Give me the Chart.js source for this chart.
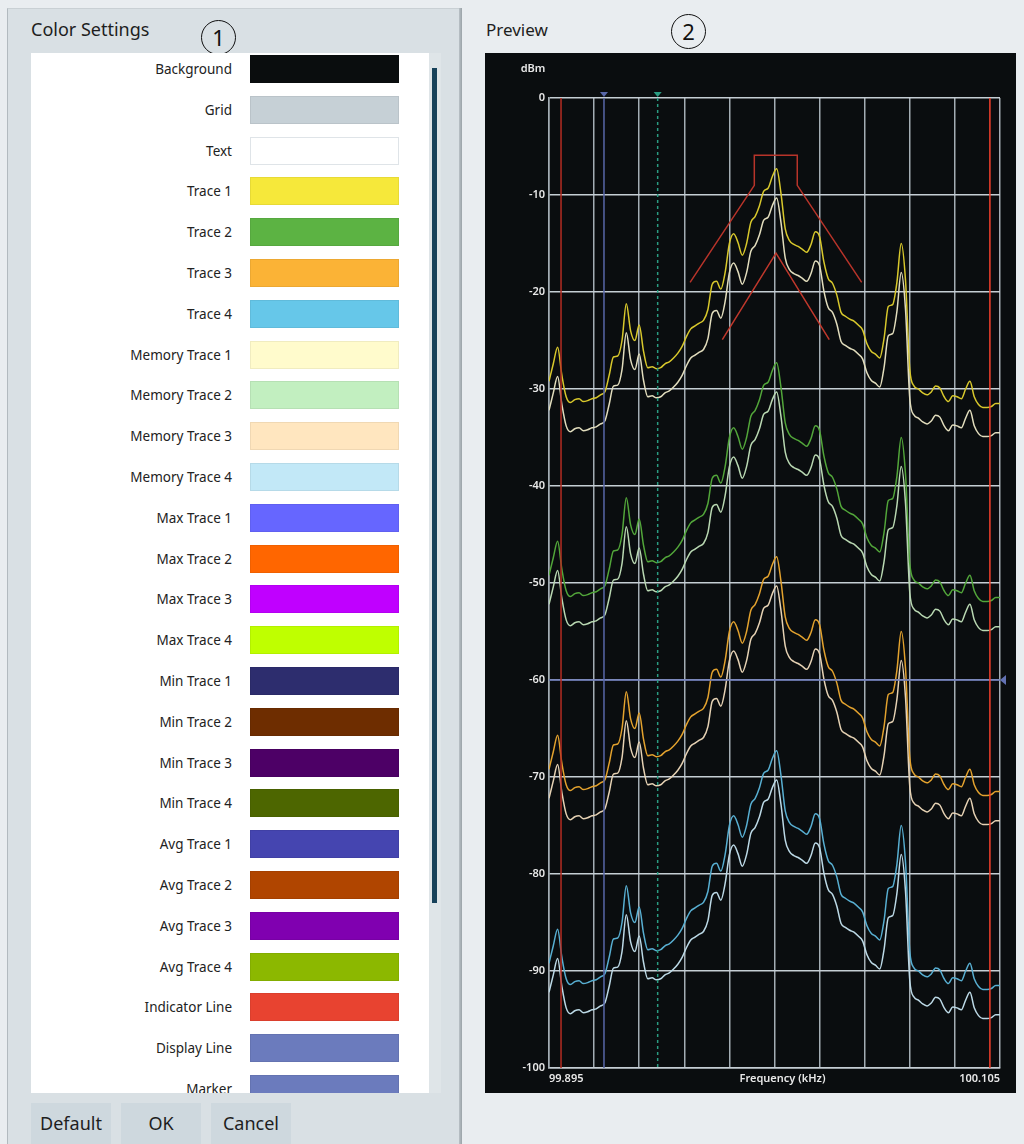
<!DOCTYPE html>
<html>
<head>
<meta charset="utf-8">
<script src="https://cdn.jsdelivr.net/npm/chart.js@4.4.0/dist/chart.umd.min.js"></script>
<style>
  html, body { margin: 0; padding: 0; }
  body {
    width: 1024px; height: 1144px; position: relative; overflow: hidden;
    background: #e9edf0; font-family: "Noto Sans", sans-serif; color: #1e1e1e;
  }
  .abs { position: absolute; }
  #leftPanel {
    left: 7px; top: 8px; width: 452px; height: 1136px; background: #d9e0e4;
    border-left: 1px solid #b2babf; border-top: 1px solid #c9d0d4;
  }
  #panelEdge { left: 459px; top: 8px; width: 3px; height: 1136px; background: linear-gradient(to right, #b9c1c6, #9aa3a8); }
  .title { font-size: 18px; line-height: 22px; white-space: nowrap; }
  .circ {
    width: 33px; height: 33px; border: 1.5px solid #111; border-radius: 50%;
    text-align: center; font-size: 22px; line-height: 33px; color: #111;
  }
  #list { left: 31px; top: 53px; width: 398px; height: 1040px; background: #fff; overflow: hidden; }
  .lbl { position: absolute; right: 197px; font-size: 13.5px; line-height: 18px; white-space: nowrap; color: #222; }
  .sw { position: absolute; left: 219px; width: 149px; height: 28px; box-sizing: border-box; }
  #track { left: 429px; top: 53px; width: 12px; height: 1040px; background: #dfe5e8; }
  #thumb { left: 432px; top: 68px; width: 5px; height: 835px; background: #17425a; }
  .btn {
    top: 1103px; width: 80px; height: 41px; background: #ced8de;
    font-size: 18px; line-height: 41px; text-align: center; color: #1e1e1e;
  }
  #plotBox { left: 485px; top: 53px; width: 531px; height: 1040px; background: #0a0d0f; }
</style>
</head>
<body>
<div id="leftPanel" class="abs"></div>
<div id="panelEdge" class="abs"></div>
<div class="abs title" style="left:31px;top:18px;">Color Settings</div>
<div class="abs circ" style="left:201px;top:20px;">1</div>
<div class="abs title" style="left:486px;top:19px;font-size:17px;">Preview</div>
<div class="abs circ" style="left:671px;top:14px;">2</div>
<div id="list" class="abs"></div>
<div id="track" class="abs"></div>
<div id="thumb" class="abs"></div>
<div class="abs btn" style="left:31px;">Default</div>
<div class="abs btn" style="left:121px;">OK</div>
<div class="abs btn" style="left:211px;">Cancel</div>
<div id="plotBox" class="abs"><canvas id="spectrum"></canvas></div>

<script>
// Color settings list
const colorNames = ["Background", "Grid", "Text", "Trace 1", "Trace 2", "Trace 3", "Trace 4",
  "Memory Trace 1", "Memory Trace 2", "Memory Trace 3", "Memory Trace 4",
  "Max Trace 1", "Max Trace 2", "Max Trace 3", "Max Trace 4",
  "Min Trace 1", "Min Trace 2", "Min Trace 3", "Min Trace 4",
  "Avg Trace 1", "Avg Trace 2", "Avg Trace 3", "Avg Trace 4",
  "Indicator Line", "Display Line", "Marker"];
const colorValues = ["#0a0d0e", "#c6d0d6", "#ffffff", "#f6e83a", "#5cb343", "#fbb336", "#66c7e9",
  "#fffbcc", "#c2efc0", "#ffe6bf", "#c2e8f7",
  "#6666ff", "#ff6600", "#c000ff", "#bfff00",
  "#2d2d6e", "#6e2d00", "#4d0066", "#4d6600",
  "#4545b0", "#b04500", "#8000b0", "#8cb800",
  "#e84330", "#6b7bbd", "#6b7bbd"];

// Spectrum data (kHz / dBm)
const freqs = [99.895,99.897,99.899,99.901,99.903,99.905,99.907,99.909,99.911,99.913,
  99.915,99.917,99.919,99.921,99.923,99.925,99.927,99.929,99.931,99.933,
  99.935,99.937,99.939,99.941,99.943,99.945,99.947,99.949,99.951,99.953,
  99.955,99.957,99.959,99.961,99.963,99.965,99.967,99.969,99.971,99.973,
  99.975,99.977,99.979,99.981,99.983,99.985,99.987,99.989,99.991,99.993,
  99.995,99.997,99.999,100.001,100.003,100.005,100.007,100.009,100.011,100.013,
  100.015,100.017,100.019,100.021,100.023,100.025,100.027,100.029,100.031,100.033,
  100.035,100.037,100.039,100.041,100.043,100.045,100.047,100.049,100.051,100.053,
  100.055,100.057,100.059,100.061,100.063,100.065,100.067,100.069,100.071,100.073,
  100.075,100.077,100.079,100.081,100.083,100.085,100.087,100.089,100.091,100.093,
  100.095,100.097,100.099,100.101,100.103,100.105];

const trace1 = [-29.2,-27.4,-25.7,-28.6,-30.8,-31.4,-31.1,-31.0,-31.3,-31.2,
  -31.0,-30.9,-30.6,-30.3,-28.6,-26.7,-26.6,-25.0,-21.2,-24.0,
  -25.0,-23.4,-26.1,-27.8,-27.7,-27.9,-27.8,-27.4,-27.2,-26.8,
  -26.3,-25.6,-24.6,-23.8,-23.5,-23.2,-22.9,-21.8,-19.2,-18.9,
  -19.7,-18.0,-15.0,-14.0,-14.9,-16.2,-15.0,-12.8,-12.2,-11.1,
  -9.6,-9.3,-8.1,-7.3,-9.8,-13.5,-14.7,-15.1,-15.3,-15.6,
  -15.9,-15.1,-13.8,-14.3,-16.9,-18.6,-19.1,-20.3,-22.1,-22.5,
  -22.8,-23.0,-23.4,-23.9,-25.3,-26.1,-26.4,-26.8,-24.8,-21.5,
  -21.3,-19.0,-15.0,-18.8,-28.0,-29.7,-30.0,-30.4,-30.6,-30.3,
  -29.7,-29.9,-30.8,-31.3,-30.7,-30.8,-31.0,-30.0,-29.2,-30.8,
  -31.6,-31.9,-31.9,-31.8,-31.5,-31.5];
const memory1 = [-32.2,-30.4,-28.7,-31.6,-33.8,-34.4,-34.1,-34.0,-34.3,-34.2,
  -34.0,-33.9,-33.6,-33.3,-31.6,-29.7,-29.6,-28.0,-24.2,-27.0,
  -28.0,-26.4,-29.1,-30.8,-30.7,-30.9,-30.8,-30.4,-30.2,-29.8,
  -29.3,-28.6,-27.6,-26.8,-26.5,-26.2,-25.9,-24.8,-22.2,-21.9,
  -22.7,-21.0,-18.0,-17.0,-17.9,-19.2,-18.0,-15.8,-15.2,-14.1,
  -12.6,-12.3,-11.1,-10.3,-12.8,-16.5,-17.7,-18.1,-18.3,-18.6,
  -18.9,-18.1,-16.8,-17.3,-19.9,-21.6,-22.1,-23.3,-25.1,-25.5,
  -25.8,-26.0,-26.4,-26.9,-28.3,-29.1,-29.4,-29.8,-27.8,-24.5,
  -24.3,-22.0,-18.0,-21.8,-31.0,-32.7,-33.0,-33.4,-33.6,-33.3,
  -32.7,-32.9,-33.8,-34.3,-33.7,-33.8,-34.0,-33.0,-32.2,-33.8,
  -34.6,-34.9,-34.9,-34.8,-34.5,-34.5];
const trace2 = [-49.2,-47.4,-45.7,-48.6,-50.8,-51.4,-51.1,-51.0,-51.3,-51.2,
  -51.0,-50.9,-50.6,-50.3,-48.6,-46.7,-46.6,-45.0,-41.2,-44.0,
  -45.0,-43.4,-46.1,-47.8,-47.7,-47.9,-47.8,-47.4,-47.2,-46.8,
  -46.3,-45.6,-44.6,-43.8,-43.5,-43.2,-42.9,-41.8,-39.2,-38.9,
  -39.7,-38.0,-35.0,-34.0,-34.9,-36.2,-35.0,-32.8,-32.2,-31.1,
  -29.6,-29.3,-28.1,-27.3,-29.8,-33.5,-34.7,-35.1,-35.3,-35.6,
  -35.9,-35.1,-33.8,-34.3,-36.9,-38.6,-39.1,-40.3,-42.1,-42.5,
  -42.8,-43.0,-43.4,-43.9,-45.3,-46.1,-46.4,-46.8,-44.8,-41.5,
  -41.3,-39.0,-35.0,-38.8,-48.0,-49.7,-50.0,-50.4,-50.6,-50.3,
  -49.7,-49.9,-50.8,-51.3,-50.7,-50.8,-51.0,-50.0,-49.2,-50.8,
  -51.6,-51.9,-51.9,-51.8,-51.5,-51.5];
const memory2 = [-52.2,-50.4,-48.7,-51.6,-53.8,-54.4,-54.1,-54.0,-54.3,-54.2,
  -54.0,-53.9,-53.6,-53.3,-51.6,-49.7,-49.6,-48.0,-44.2,-47.0,
  -48.0,-46.4,-49.1,-50.8,-50.7,-50.9,-50.8,-50.4,-50.2,-49.8,
  -49.3,-48.6,-47.6,-46.8,-46.5,-46.2,-45.9,-44.8,-42.2,-41.9,
  -42.7,-41.0,-38.0,-37.0,-37.9,-39.2,-38.0,-35.8,-35.2,-34.1,
  -32.6,-32.3,-31.1,-30.3,-32.8,-36.5,-37.7,-38.1,-38.3,-38.6,
  -38.9,-38.1,-36.8,-37.3,-39.9,-41.6,-42.1,-43.3,-45.1,-45.5,
  -45.8,-46.0,-46.4,-46.9,-48.3,-49.1,-49.4,-49.8,-47.8,-44.5,
  -44.3,-42.0,-38.0,-41.8,-51.0,-52.7,-53.0,-53.4,-53.6,-53.3,
  -52.7,-52.9,-53.8,-54.3,-53.7,-53.8,-54.0,-53.0,-52.2,-53.8,
  -54.6,-54.9,-54.9,-54.8,-54.5,-54.5];
const trace3 = [-69.2,-67.4,-65.7,-68.6,-70.8,-71.4,-71.1,-71.0,-71.3,-71.2,
  -71.0,-70.9,-70.6,-70.3,-68.6,-66.7,-66.6,-65.0,-61.2,-64.0,
  -65.0,-63.4,-66.1,-67.8,-67.7,-67.9,-67.8,-67.4,-67.2,-66.8,
  -66.3,-65.6,-64.6,-63.8,-63.5,-63.2,-62.9,-61.8,-59.2,-58.9,
  -59.7,-58.0,-55.0,-54.0,-54.9,-56.2,-55.0,-52.8,-52.2,-51.1,
  -49.6,-49.3,-48.1,-47.3,-49.8,-53.5,-54.7,-55.1,-55.3,-55.6,
  -55.9,-55.1,-53.8,-54.3,-56.9,-58.6,-59.1,-60.3,-62.1,-62.5,
  -62.8,-63.0,-63.4,-63.9,-65.3,-66.1,-66.4,-66.8,-64.8,-61.5,
  -61.3,-59.0,-55.0,-58.8,-68.0,-69.7,-70.0,-70.4,-70.6,-70.3,
  -69.7,-69.9,-70.8,-71.3,-70.7,-70.8,-71.0,-70.0,-69.2,-70.8,
  -71.6,-71.9,-71.9,-71.8,-71.5,-71.5];
const memory3 = [-72.2,-70.4,-68.7,-71.6,-73.8,-74.4,-74.1,-74.0,-74.3,-74.2,
  -74.0,-73.9,-73.6,-73.3,-71.6,-69.7,-69.6,-68.0,-64.2,-67.0,
  -68.0,-66.4,-69.1,-70.8,-70.7,-70.9,-70.8,-70.4,-70.2,-69.8,
  -69.3,-68.6,-67.6,-66.8,-66.5,-66.2,-65.9,-64.8,-62.2,-61.9,
  -62.7,-61.0,-58.0,-57.0,-57.9,-59.2,-58.0,-55.8,-55.2,-54.1,
  -52.6,-52.3,-51.1,-50.3,-52.8,-56.5,-57.7,-58.1,-58.3,-58.6,
  -58.9,-58.1,-56.8,-57.3,-59.9,-61.6,-62.1,-63.3,-65.1,-65.5,
  -65.8,-66.0,-66.4,-66.9,-68.3,-69.1,-69.4,-69.8,-67.8,-64.5,
  -64.3,-62.0,-58.0,-61.8,-71.0,-72.7,-73.0,-73.4,-73.6,-73.3,
  -72.7,-72.9,-73.8,-74.3,-73.7,-73.8,-74.0,-73.0,-72.2,-73.8,
  -74.6,-74.9,-74.9,-74.8,-74.5,-74.5];
const trace4 = [-89.2,-87.4,-85.7,-88.6,-90.8,-91.4,-91.1,-91.0,-91.3,-91.2,
  -91.0,-90.9,-90.6,-90.3,-88.6,-86.7,-86.6,-85.0,-81.2,-84.0,
  -85.0,-83.4,-86.1,-87.8,-87.7,-87.9,-87.8,-87.4,-87.2,-86.8,
  -86.3,-85.6,-84.6,-83.8,-83.5,-83.2,-82.9,-81.8,-79.2,-78.9,
  -79.7,-78.0,-75.0,-74.0,-74.9,-76.2,-75.0,-72.8,-72.2,-71.1,
  -69.6,-69.3,-68.1,-67.3,-69.8,-73.5,-74.7,-75.1,-75.3,-75.6,
  -75.9,-75.1,-73.8,-74.3,-76.9,-78.6,-79.1,-80.3,-82.1,-82.5,
  -82.8,-83.0,-83.4,-83.9,-85.3,-86.1,-86.4,-86.8,-84.8,-81.5,
  -81.3,-79.0,-75.0,-78.8,-88.0,-89.7,-90.0,-90.4,-90.6,-90.3,
  -89.7,-89.9,-90.8,-91.3,-90.7,-90.8,-91.0,-90.0,-89.2,-90.8,
  -91.6,-91.9,-91.9,-91.8,-91.5,-91.5];
const memory4 = [-92.2,-90.4,-88.7,-91.6,-93.8,-94.4,-94.1,-94.0,-94.3,-94.2,
  -94.0,-93.9,-93.6,-93.3,-91.6,-89.7,-89.6,-88.0,-84.2,-87.0,
  -88.0,-86.4,-89.1,-90.8,-90.7,-90.9,-90.8,-90.4,-90.2,-89.8,
  -89.3,-88.6,-87.6,-86.8,-86.5,-86.2,-85.9,-84.8,-82.2,-81.9,
  -82.7,-81.0,-78.0,-77.0,-77.9,-79.2,-78.0,-75.8,-75.2,-74.1,
  -72.6,-72.3,-71.1,-70.3,-72.8,-76.5,-77.7,-78.1,-78.3,-78.6,
  -78.9,-78.1,-76.8,-77.3,-79.9,-81.6,-82.1,-83.3,-85.1,-85.5,
  -85.8,-86.0,-86.4,-86.9,-88.3,-89.1,-89.4,-89.8,-87.8,-84.5,
  -84.3,-82.0,-78.0,-81.8,-91.0,-92.7,-93.0,-93.4,-93.6,-93.3,
  -92.7,-92.9,-93.8,-94.3,-93.7,-93.8,-94.0,-93.0,-92.2,-93.8,
  -94.6,-94.9,-94.9,-94.8,-94.5,-94.5];

// Limit lines
const limitUpperF = [99.9607, 99.9906, 99.9906, 100.0106, 100.0106, 100.0406];
const limitUpperDb = [-19.0, -9.0, -5.9, -5.9, -9.0, -19.0];
const limitLowerF = [99.9757, 100.0007, 100.0255];
const limitLowerDb = [-24.9, -16.0, -24.9];

// Indicator / marker / display lines
const indicatorF = [99.9006, 100.1003];
const markerF = [99.9206, 99.9456];
const displayLineDb = -60;

const xEdgeLabels = ["99.895", "100.105"];
const xGridStep = 0.021;

// build the list on the left
const list = document.getElementById("list");
colorNames.forEach((name, i) => {
  const cy = 16 + i * 40.8;
  const l = document.createElement("div");
  l.className = "lbl";
  l.style.top = (cy - 9) + "px";
  l.textContent = name;
  list.appendChild(l);
  const s = document.createElement("div");
  s.className = "sw";
  s.style.top = (cy - 14) + "px";
  s.style.background = colorValues[i];
  s.style.border = "1px solid " + (colorValues[i] === "#ffffff" ? "#dfe4e8" : "rgba(0,0,0,0.06)");
  list.appendChild(s);
});

const pts = (ys) => freqs.map((f, i) => ({ x: f, y: ys[i] }));
const traceSet = (ys, color) => ({
  data: pts(ys), borderColor: color, borderWidth: 1.5, pointRadius: 0,
  cubicInterpolationMode: "monotone", fill: false
});
const straight = (data, color, dash) => ({
  data: data, borderColor: color, borderWidth: 1.5, pointRadius: 0,
  tension: 0, fill: false, borderDash: dash || []
});

const datasets = [
  straight(indicatorF.slice(0, 1).flatMap(f => [{ x: f, y: 0 }, { x: f, y: -100 }]), "#b32d22"),
  straight(indicatorF.slice(1).flatMap(f => [{ x: f, y: 0 }, { x: f, y: -100 }]), "#f2402c"),
  straight([{ x: markerF[0], y: 0 }, { x: markerF[0], y: -100 }], "#5867a8"),
  straight([{ x: markerF[1], y: 0 }, { x: markerF[1], y: -100 }], "#2a9c82", [3, 3]),
  straight([{ x: freqs[0], y: displayLineDb }, { x: freqs[freqs.length - 1], y: displayLineDb }], "#6372b4"),
  straight(limitUpperF.map((f, i) => ({ x: f, y: limitUpperDb[i] })), "#b8342a"),
  straight(limitLowerF.map((f, i) => ({ x: f, y: limitLowerDb[i] })), "#c0382c"),
  traceSet(memory1, "#e2ddbd"),
  traceSet(trace1, "#d8c82c"),
  traceSet(memory2, "#b9d8b2"),
  traceSet(trace2, "#52a63a"),
  traceSet(memory3, "#e6d2b4"),
  traceSet(trace3, "#e3a22e"),
  traceSet(memory4, "#bcd9e6"),
  traceSet(trace4, "#58afd2"),
];

// markers on top, display line handle, labels
const overlay = {
  id: "overlay",
  afterDatasetsDraw(chart) {
    const { ctx, chartArea, scales } = chart;
    const top = chartArea.top;
    ctx.save();
    [["#5867a8", markerF[0]], ["#2a9c82", markerF[1]]].forEach(([c, f]) => {
      const x = scales.x.getPixelForValue(f);
      ctx.fillStyle = c;
      ctx.beginPath();
      ctx.moveTo(x - 4, top - 6);
      ctx.lineTo(x + 4, top - 6);
      ctx.lineTo(x, top - 1);
      ctx.closePath();
      ctx.fill();
    });
    const yd = scales.y.getPixelForValue(displayLineDb);
    ctx.fillStyle = "#6372b4";
    ctx.beginPath();
    ctx.moveTo(chartArea.right, yd);
    ctx.lineTo(chartArea.right + 6, yd - 5);
    ctx.lineTo(chartArea.right + 6, yd + 5);
    ctx.closePath();
    ctx.fill();

    ctx.fillStyle = "#e8e8e8";
    ctx.font = "600 11px 'Noto Sans'";
    ctx.textAlign = "center";
    ctx.textBaseline = "middle";
    ctx.fillText("dBm", chartArea.left - 16, top - 29);
    ctx.fillText("Frequency (kHz)", (chartArea.left + chartArea.right) / 2 + 8, chartArea.bottom + 11);
    ctx.restore();
  }
};

new Chart(document.getElementById("spectrum"), {
  type: "line",
  data: { datasets },
  plugins: [overlay],
  options: {
    responsive: true,
    maintainAspectRatio: false,
    animation: false,
    layout: { padding: { top: 45, right: 16, left: 0, bottom: 0 } },
    plugins: { legend: { display: false }, tooltip: { enabled: false } },
    scales: {
      x: {
        type: "linear", min: freqs[0], max: freqs[freqs.length - 1],
        afterBuildTicks: (s) => {
          const t = [];
          for (let k = 0; k <= 10; k++) t.push({ value: freqs[0] + k * xGridStep });
          s.ticks = t;
        },
        afterFit: (s) => { s.height = 25; },
        grid: { color: "#a3adb4", lineWidth: 1.5, drawTicks: false },
        border: { color: "#c5ced4", width: 1.5 },
        ticks: {
          autoSkip: false, maxRotation: 0, align: "inner", padding: 4,
          color: "#e8e8e8", font: { family: "Noto Sans", size: 11, weight: "600" },
          callback: (v, i, ticks) => i === 0 ? xEdgeLabels[0] : (i === ticks.length - 1 ? xEdgeLabels[1] : "")
        }
      },
      y: {
        min: -100, max: 0,
        afterFit: (s) => { s.width = 64; },
        grid: { color: "#c5ced4", lineWidth: 1.5, drawTicks: false },
        border: { color: "#a3adb4", width: 1.5 },
        ticks: {
          stepSize: 10, autoSkip: false, padding: 4,
          color: "#e8e8e8", font: { family: "Noto Sans", size: 11, weight: "600" }
        }
      }
    }
  }
});
</script>
</body>
</html>
